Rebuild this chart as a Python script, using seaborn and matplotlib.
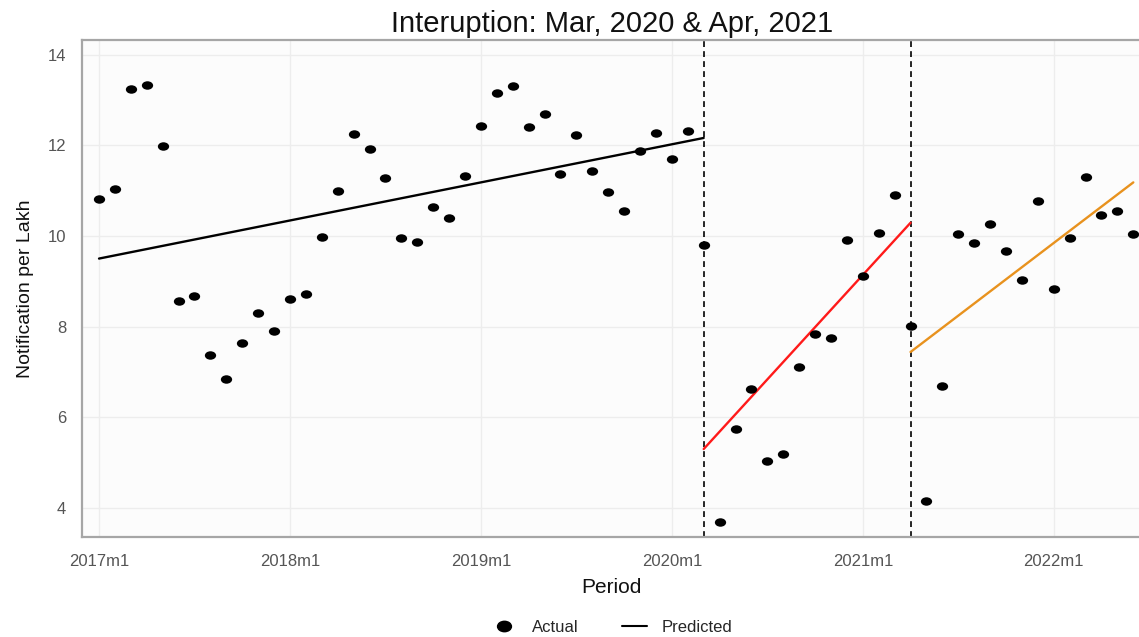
import numpy as np
import pandas as pd
import matplotlib
matplotlib.use("Agg")
import matplotlib.pyplot as plt
from matplotlib.path import Path
from matplotlib.markers import MarkerStyle
from matplotlib.transforms import Affine2D
from matplotlib.lines import Line2D
import seaborn as sns

# Monthly notification rate per lakh, 2017m1 .. 2022m6
actual_2017 = [10.82, 11.03, 13.25, 13.32, 11.98, 8.56, 8.68, 7.38, 6.84, 7.64, 8.29, 7.90]
actual_2018 = [8.60, 8.71, 9.98, 10.98, 12.25, 11.92, 11.28, 9.95, 9.87, 10.64, 10.40, 11.32]
actual_2019 = [12.43, 13.15, 13.31, 12.40, 12.68, 11.37, 12.22, 11.43, 10.96, 10.56, 11.87, 12.28]
actual_2020 = [11.69, 12.31, 9.80, 3.69, 5.75, 6.62, 5.04, 5.19, 7.10, 7.84, 7.75, 9.90]
actual_2021 = [9.12, 10.06, 10.90, 8.01, 4.16, 6.68, 10.04, 9.84, 10.27, 9.67, 9.03, 10.78]
actual_2022 = [8.82, 9.95, 11.29, 10.46, 10.56, 10.05]

# Fitted segments (start period, end period, start value, end value)
seg_start = ["2017m1", "2020m3", "2021m4"]
seg_end = ["2020m3", "2021m4", "2022m6"]
seg_start_val = [9.50, 5.30, 7.44]
seg_end_val = [12.16, 10.29, 11.18]
seg_colors = ["black", "#ff1a1a", "#e8921e"]

interruptions = ["2020m3", "2021m4"]
tick_labels = ["2017m1", "2018m1", "2019m1", "2020m1", "2021m1", "2022m1"]
y_ticks = [4, 6, 8, 10, 12, 14]


def month_index(label):
    year, month = label.split("m")
    return (int(year) - 2017) * 12 + int(month) - 1


values = actual_2017 + actual_2018 + actual_2019 + actual_2020 + actual_2021 + actual_2022
periods = pd.period_range("2017-01", periods=len(values), freq="M")
df = pd.DataFrame({
    "t": np.arange(len(values)),
    "period": [f"{p.year}m{p.month}" for p in periods],
    "rate": values,
})

sns.set_theme(style="white")
plt.rcParams["font.family"] = ["Liberation Sans", "DejaVu Sans"]

fig = plt.figure(figsize=(11.39, 6.37), dpi=100)
ax = fig.add_axes([82 / 1139, 1 - 537 / 637, 1 - 82 / 1139 + 0.002, (537 - 40) / 637])
ax.set_facecolor("#fcfcfc")

# grid
for yt in y_ticks:
    ax.axhline(yt, color="#ededed", lw=1.0, zorder=0)
for lab in tick_labels:
    ax.axvline(month_index(lab), color="#ededed", lw=1.0, zorder=0)

# fitted lines
for s, e, sv, ev, c in zip(seg_start, seg_end, seg_start_val, seg_end_val, seg_colors):
    seg = pd.DataFrame({"t": [month_index(s), month_index(e)], "fit": [sv, ev]})
    sns.lineplot(data=seg, x="t", y="fit", color=c, lw=1.7, ax=ax, zorder=3)

# interruption markers
for lab in interruptions:
    ax.axvline(month_index(lab), color="black", lw=1.2, ls=(0, (3.5, 2.5)), zorder=2)

# slightly wide dots
ell = Path.unit_circle().transformed(Affine2D().scale(1.0, 0.75))
dot = MarkerStyle(ell)
sns.scatterplot(data=df, x="t", y="rate", marker=dot, s=66, color="black",
                edgecolor="black", linewidth=0, ax=ax, zorder=4)

ax.set_xlim(-1.07, 65.5)
ax.set_ylim(3.36, 14.32)
ax.set_xticks([month_index(l) for l in tick_labels])
ax.set_xticklabels(tick_labels)
ax.set_yticks(y_ticks)
ax.tick_params(axis="both", colors="#9a9a9a", length=6.5, width=1.2, labelsize=12,
               labelcolor="#555555", direction="out")
ax.tick_params(axis="x", pad=6)
ax.tick_params(axis="y", pad=5)

for side in ["left", "bottom", "top"]:
    ax.spines[side].set_color("#a6a6a6")
    ax.spines[side].set_linewidth(1.6)
ax.spines["right"].set_visible(False)

ax.set_title("Interuption: Mar, 2020 & Apr, 2021", fontsize=21, pad=6, color="#111111")
ax.set_xlabel("Period", fontsize=15, labelpad=6, color="#111111")
ax.set_ylabel("Notification per Lakh", fontsize=14, labelpad=10, color="#111111")

handles = [
    Line2D([], [], marker=dot, color="black", ls="none", markersize=10),
    Line2D([], [], color="black", lw=1.5),
]
fig.legend(handles, ["Actual", "Predicted"], loc="center", ncol=2,
           bbox_to_anchor=(612 / 1139, 1 - 627 / 637), frameon=False,
           fontsize=12, handlelength=1.5, columnspacing=2.6, handletextpad=0.9)

fig.savefig("out.png", dpi=100, facecolor="white")
